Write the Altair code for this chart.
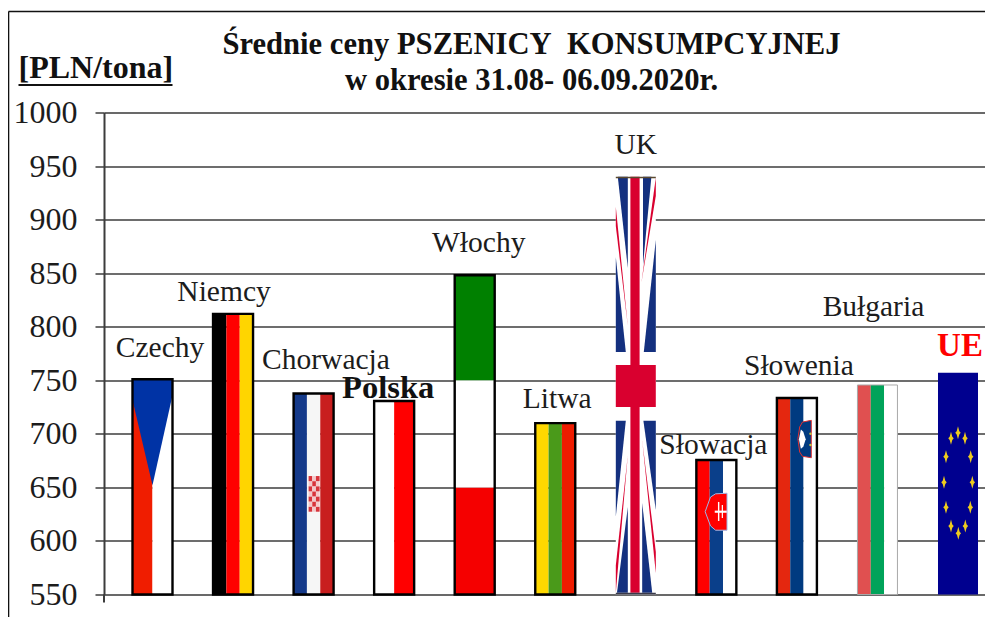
import altair as alt
import pandas as pd

countries = ["Czechy", "Niemcy", "Chorwacja", "Polska", "Włochy", "Litwa", "UK", "Słowacja", "Słowenia", "Bułgaria", "UE"]
prices = [751, 812, 737.7, 730.7, 848, 710, 940, 675.6, 733.5, 745.6, 757]
y_ticks = [550, 600, 650, 700, 750, 800, 850, 900, 950, 1000]
title_lines = ["Średnie ceny PSZENICY\u00a0 KONSUMPCYJNEJ", "w okresie 31.08- 06.09.2020r."]

stripes = {
    "Czechy": ["#f01d00", "#ffffff"],
    "Niemcy": ["#000000", "#ff0000", "#ffd500"],
    "Chorwacja": ["#153a8a", "#f6f6f6", "#c81e1e"],
    "Polska": ["#ffffff", "#ff0000"],
    "Litwa": ["#ffd800", "#4a9a1a", "#ee1c00"],
    "Słowacja": ["#ff0000", "#0a3f8a", "#ffffff"],
    "Słowenia": ["#e4270f", "#003a80", "#ffffff"],
    "Bułgaria": ["#e05050", "#00a35a", "#ffffff"],
    "UE": ["#00008f"],
}
italy_bands = [(550, 650, "#f50000"), (650, 750, "#ffffff"), (750, 848, "#008000")]

# Flag details: (country, colour, [(fraction of bar width, low price, high price), ...])
uk_blue = "#14307f"
uk_red = "#d9002f"
polygons = [
    ("UK", uk_blue, [(.05, 940, 940), (.30, 854.8, 940)]),
    ("UK", uk_blue, [(.68, 857.6, 940), (.89, 940, 940)]),
    ("UK", uk_blue, [(0, 776.4, 865), (.25, 776.4, 776.4)]),
    ("UK", uk_blue, [(.70, 776.4, 776.4), (1, 776.4, 881)]),
    ("UK", uk_blue, [(0, 622.6, 712.3), (.25, 712.3, 712.3)]),
    ("UK", uk_blue, [(.69, 712.3, 712.3), (1, 628.9, 712.3)]),
    ("UK", uk_blue, [(.03, 551.7, 551.7), (.30, 551.7, 631.7)]),
    ("UK", uk_blue, [(.66, 551.7, 635.4), (.91, 551.7, 551.7)]),
    ("UK", uk_red, [(0, 894, 912), (.30, 801, 801)]),
    ("UK", uk_red, [(.64, 841, 841), (1, 922, 939)]),
    ("UK", uk_red, [(0, 551.7, 577), (.30, 680, 680)]),
    ("UK", uk_red, [(.66, 694, 694), (1, 570, 590)]),
    ("Czechy", "#0033a5", [(0, 731.6, 751), (.5, 652, 751), (1, 736, 751)]),
]
uk_rects = [
    (.365, .595, 551.7, 940, uk_red),
    (0, 1, 725, 764.3, uk_red),
    (0, 1, 938.6, 940, "#5a4a30"),
    (0, 1, 550, 551.7, "#3a3a4a"),
]
slovak_shield = [(.22, 627.3, 627.3), (.354, 614, 641), (.48, 610, 644), (.767, 610, 644.5)]
slovak_cross = [
    (.46, .76, 626.3, 628.3),
    (.54, .575, 618.6, 636.4),
    (.635, .665, 621.4, 633.6),
]
slovene_shield = [(.525, 695.4, 695.4), (.57, 683, 706.4), (.64, 679, 711), (.86, 677.7, 712.6)]
slovene_peak = [(.55, 695, 695), (.6, 686, 704), (.66, 688, 702), (.72, 695, 695)]
slovene_stars = [(.84, 700), (.84, 689.6)]
eu_stars = [
    (.5, 701), (.675, 695.8), (.817, 678.7), (.858, 654.7), (.808, 631.4), (.683, 613.9),
    (.508, 607.1), (.325, 613.9), (.2, 631.4), (.15, 654.7), (.2, 678.7), (.325, 695.8),
]
croatia_box = (.375, .65, 627.3, 660.6)

BAR = 0.4966
index = {c: i for i, c in enumerate(countries)}
price = dict(zip(countries, prices))
SERIF = "Liberation Serif"


def fx(country, f):
    return index[country] + (f - 0.5) * BAR


rect_rows = []
for c in countries:
    if c in stripes:
        cols = stripes[c]
        for k, col in enumerate(cols):
            rect_rows.append(dict(x0=fx(c, k / len(cols)), x1=fx(c, (k + 1) / len(cols)), lo=550, hi=price[c], fill=col))
for lo, hi, col in italy_bands:
    rect_rows.append(dict(x0=fx("Włochy", 0), x1=fx("Włochy", 1), lo=lo, hi=hi, fill=col))
rect_rows.append(dict(x0=fx("UK", 0), x1=fx("UK", 1), lo=550, hi=940, fill="#ffffff"))
base = pd.DataFrame(rect_rows)

poly_rows = []
for n, (c, col, pts) in enumerate(polygons):
    for f, lo, hi in pts:
        poly_rows.append(dict(poly=n, x0=fx(c, f), lo=lo, hi=hi, fill=col))
polys = pd.DataFrame(poly_rows)

over_rows = [dict(x0=fx("UK", a), x1=fx("UK", b), lo=l, hi=h, fill=col) for a, b, l, h, col in uk_rects]
a, b, lo, hi = croatia_box
for col_i in range(3):
    for row_i in range(7):
        over_rows.append(dict(
            x0=fx("Chorwacja", a + (b - a) * col_i / 3), x1=fx("Chorwacja", a + (b - a) * (col_i + 1) / 3),
            lo=lo + (hi - lo) * row_i / 7, hi=lo + (hi - lo) * (row_i + 1) / 7,
            fill="#d8333a" if (col_i + row_i) % 2 == 0 else "#f3c9cb"))
overs = pd.DataFrame(over_rows)

grid_axis = alt.Axis(
    values=y_ticks, format="d", grid=True, gridColor="#3c3c3c", gridWidth=1.5,
    tickColor="#3c3c3c", tickSize=9, tickWidth=1.5,
    domainColor="#3c3c3c", domainWidth=2,
    labelFont=SERIF, labelFontSize=32, labelColor="#1c1c1c", labelPadding=18,
    title="[PLN/tona]", titleFont=SERIF, titleFontSize=32, titleFontWeight="bold", titleColor="#111111",
    titleAngle=0, titleAlign="left", titleBaseline="alphabetic", titleX=-86, titleY=-35,
)
xs = alt.Scale(domain=[-0.6021, 10.3352], nice=False, zero=False)
ys = alt.Scale(domain=[550, 1000], nice=False, zero=False)
X = alt.X("x0:Q", scale=xs, axis=None)
Y = alt.Y("lo:Q", scale=ys, axis=grid_axis)


def rects(df):
    return alt.Chart(df).mark_rect().encode(x=X, x2="x1:Q", y=Y, y2="hi:Q", color=alt.Color("fill:N", scale=None))


def area(pts, fill, **kw):
    df = pd.DataFrame([dict(x0=x, lo=l, hi=h) for x, l, h in pts])
    return alt.Chart(df).mark_area(color=fill, **kw).encode(x=X, y=Y, y2="hi:Q")


base_layer = rects(base)
poly_layer = alt.Chart(polys).mark_area().encode(x=X, y=Y, y2="hi:Q", color=alt.Color("fill:N", scale=None), detail="poly:N")
over_layer = rects(overs)

sk_shield = area([(fx("Słowacja", f), l, h) for f, l, h in slovak_shield], "#ff0000", stroke="#9db6e6", strokeWidth=1)
sk_cross = rects(pd.DataFrame([dict(x0=fx("Słowacja", a_), x1=fx("Słowacja", b_), lo=l, hi=h, fill="#ffffff") for a_, b_, l, h in slovak_cross]))
si_shield = area([(fx("Słowenia", f), l, h) for f, l, h in slovene_shield], "#003a80", stroke="#e03030", strokeWidth=1)
si_peak = area([(fx("Słowenia", f), l, h) for f, l, h in slovene_peak], "#ffffff")
si_stars = alt.Chart(pd.DataFrame([dict(x0=fx("Słowenia", f), lo=v) for f, v in slovene_stars])).mark_point(
    filled=True, color="#c9c040", size=6, opacity=1).encode(x=X, y=Y)

STAR = "M0,-1L0.2,-0.25L0.42,0L0.2,0.25L0,1L-0.2,0.25L-0.42,0L-0.2,-0.25Z"
eu_layer = alt.Chart(pd.DataFrame([dict(x0=fx("UE", f), lo=v) for f, v in eu_stars])).mark_point(
    filled=True, shape=STAR, color="#eecb1e", size=170, opacity=1).encode(x=X, y=Y)

outlined = ["Czechy", "Niemcy", "Chorwacja", "Polska", "Włochy", "Litwa", "Słowacja", "Słowenia"]
outline_df = pd.DataFrame([dict(x0=fx(c, 0), x1=fx(c, 1), lo=550, hi=price[c]) for c in outlined])
outline_layer = alt.Chart(outline_df).mark_rect(fillOpacity=0, stroke="#000000", strokeWidth=2.4).encode(x=X, x2="x1:Q", y=Y, y2="hi:Q")
bg_df = pd.DataFrame([dict(x0=fx("Bułgaria", 0), x1=fx("Bułgaria", 1), lo=550, hi=price["Bułgaria"])])
bg_outline = alt.Chart(bg_df).mark_rect(fillOpacity=0, stroke="#a8a8a8", strokeWidth=1).encode(x=X, x2="x1:Q", y=Y, y2="hi:Q")


def label(c, dx, dy, size=29.5, bold=False, color="#1c1c1c"):
    df = pd.DataFrame([dict(x0=index[c], lo=price[c], name=c)])
    return alt.Chart(df).mark_text(
        font=SERIF, fontSize=size, fontWeight="bold" if bold else "normal", color=color,
        dx=dx, dy=dy, align="center", baseline="middle").encode(x=X, y=Y, text="name:N")


labels = [
    label("Czechy", 7.5, -31), label("Niemcy", -9, -22), label("Chorwacja", 12.4, -33),
    label("Polska", -6, -13, size=32.5, bold=True, color="#111111"), label("Włochy", 4, -32), label("Litwa", 2, -24),
    label("UK", 0, -32), label("Słowacja", -3, -15), label("Słowenia", 2, -32),
    label("Bułgaria", -4, -78), label("UE", 2, -27, size=33, bold=True, color="#ff0000"),
]


def title_text(text, py):
    return alt.Chart(pd.DataFrame({"t": [text]})).mark_text(
        font=SERIF, fontSize=30.6, fontWeight="bold", color="#111111", align="center", baseline="alphabetic",
    ).encode(x=alt.value(427.5), y=alt.value(py), text="t:N")


one = pd.DataFrame({"a": [0]})
frame_left = alt.Chart(one).mark_rule(color="#111111", strokeWidth=1.6).encode(
    x=alt.value(-95.5), y=alt.value(-101), y2=alt.value(505))
frame_top = alt.Chart(one).mark_rule(color="#111111", strokeWidth=1.6).encode(
    x=alt.value(-95.5), x2=alt.value(881), y=alt.value(-101))
axis_tail = alt.Chart(one).mark_rule(color="#3c3c3c", strokeWidth=2).encode(
    x=alt.value(0), y=alt.value(482), y2=alt.value(490))
underline = alt.Chart(one).mark_rule(color="#111111", strokeWidth=2).encode(
    x=alt.value(-85.5), x2=alt.value(68.5), y=alt.value(-27.5))

chart = alt.layer(
    frame_left, frame_top, axis_tail, underline,
    base_layer, poly_layer, over_layer, sk_shield, sk_cross, si_shield, si_peak, si_stars, eu_layer,
    outline_layer, bg_outline, *labels,
    title_text(title_lines[0], -58.5), title_text(title_lines[1], -22.5),
).properties(
    width=881, height=482,
    padding={"left": 96, "top": 104.5, "right": 0, "bottom": 22.5},
    autosize=alt.AutoSizeParams(type="none"),
).configure_view(stroke=None).configure(background="#ffffff")

chart.save("out.html", embed_options={"renderer": "svg", "actions": False})
